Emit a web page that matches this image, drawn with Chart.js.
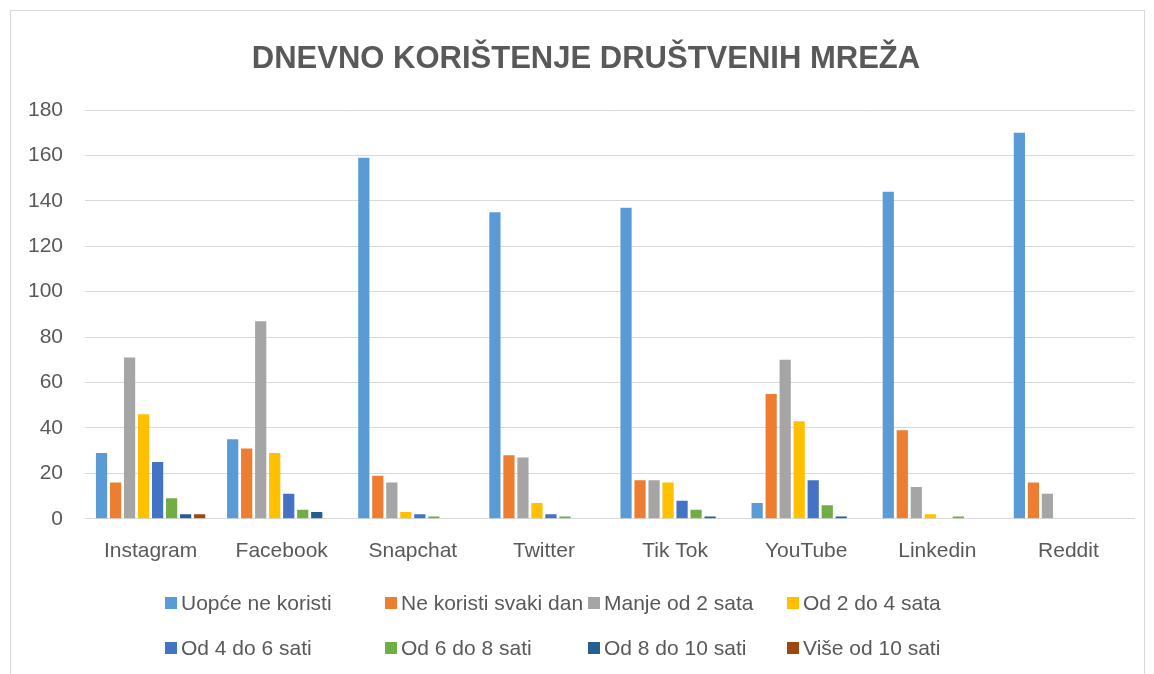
<!DOCTYPE html>
<html>
<head>
<meta charset="utf-8">
<script src="https://cdn.jsdelivr.net/npm/chart.js@4/dist/chart.umd.min.js"></script>
<style>
body{margin:0;background:#fff;font-family:"Liberation Sans",Arial,sans-serif;}
#wrap{position:relative;width:1154px;height:674px;}
#frame{position:absolute;left:10px;top:10px;width:1135px;height:680px;border:1px solid #d9d9d9;box-sizing:border-box;}
canvas{position:absolute;left:0;top:0;}
#title{position:absolute;left:0;top:39px;width:1172px;text-align:center;font-size:31px;line-height:37px;font-weight:bold;color:#595959;white-space:nowrap;}
#legend{position:absolute;left:165px;top:590px;display:grid;grid-template-columns:220px 203px 199px 200px;row-gap:20px;color:#595959;font-size:21px;}
#legend div{display:flex;align-items:center;white-space:nowrap;height:25px;}
#legend span.b{display:inline-block;width:12px;height:12px;margin-right:4px;}
</style>
</head>
<body>
<div id="wrap">
<div id="frame"></div>
<canvas id="c" width="1154" height="674"></canvas>
<div id="title"></div>
<div id="legend"></div>
</div>
<script>
const chartTitle='DNEVNO KORIŠTENJE DRUŠTVENIH MREŽA';
const categories=['Instagram','Facebook','Snapchat','Twitter','Tik Tok','YouTube','Linkedin','Reddit'];
const seriesNames=['Uopće ne koristi','Ne koristi svaki dan','Manje od 2 sata','Od 2 do 4 sata','Od 4 do 6 sati','Od 6 do 8 sati','Od 8 do 10 sati','Više od 10 sati'];
const uopceNe=[29,35,159,135,137,7,144,170];
const neSvakiDan=[16,31,19,28,17,55,39,16];
const manjeOd2=[71,87,16,27,17,70,14,11];
const od2do4=[46,29,3,7,16,43,2,0];
const od4do6=[25,11,2,2,8,17,0,0];
const od6do8=[9,4,1,1,4,6,1,0];
const od8do10=[2,3,0,0,1,1,0,0];
const viseOd10=[2,0,0,0,0,0,0,0];
const colors=['#5B9BD5','#ED7D31','#A5A5A5','#FFC000','#4472C4','#70AD47','#255E91','#9E480E'];
const yTicks=[0,20,40,60,80,100,120,140,160,180];

const allData=[uopceNe,neSvakiDan,manjeOd2,od2do4,od4do6,od6do8,od8do10,viseOd10];
const datasets=allData.map((d,i)=>({label:seriesNames[i],data:d,backgroundColor:colors[i],
  borderWidth:0,barPercentage:0.8,categoryPercentage:0.855}));

const txt='#595959';
const ff='"Liberation Sans", Arial, sans-serif';
document.getElementById('title').textContent=chartTitle;
new Chart(document.getElementById('c'),{
  type:'bar',
  data:{labels:categories,datasets},
  options:{
    responsive:false,animation:false,
    layout:{padding:{left:6,right:20,top:110,bottom:98}},
    plugins:{legend:{display:false},tooltip:{enabled:false},title:{display:false}},
    scales:{
      x:{grid:{display:false},border:{color:'#d9d9d9'},
        ticks:{color:txt,padding:12,font:{family:ff,size:21}}},
      y:{min:0,max:180,afterBuildTicks:ax=>{ax.ticks=yTicks.map(v=>({value:v}));},
        border:{display:false},grid:{color:'#d9d9d9',drawTicks:false},
        ticks:{color:txt,padding:22,font:{family:ff,size:21}}}
    }
  }
});

// legend in Excel style grid
const lg=document.getElementById('legend');
seriesNames.forEach((n,i)=>{
  const d=document.createElement('div');
  d.innerHTML=`<span class="b" style="background:${colors[i]}"></span>${n}`;
  lg.appendChild(d);
});
</script>
</body>
</html>
